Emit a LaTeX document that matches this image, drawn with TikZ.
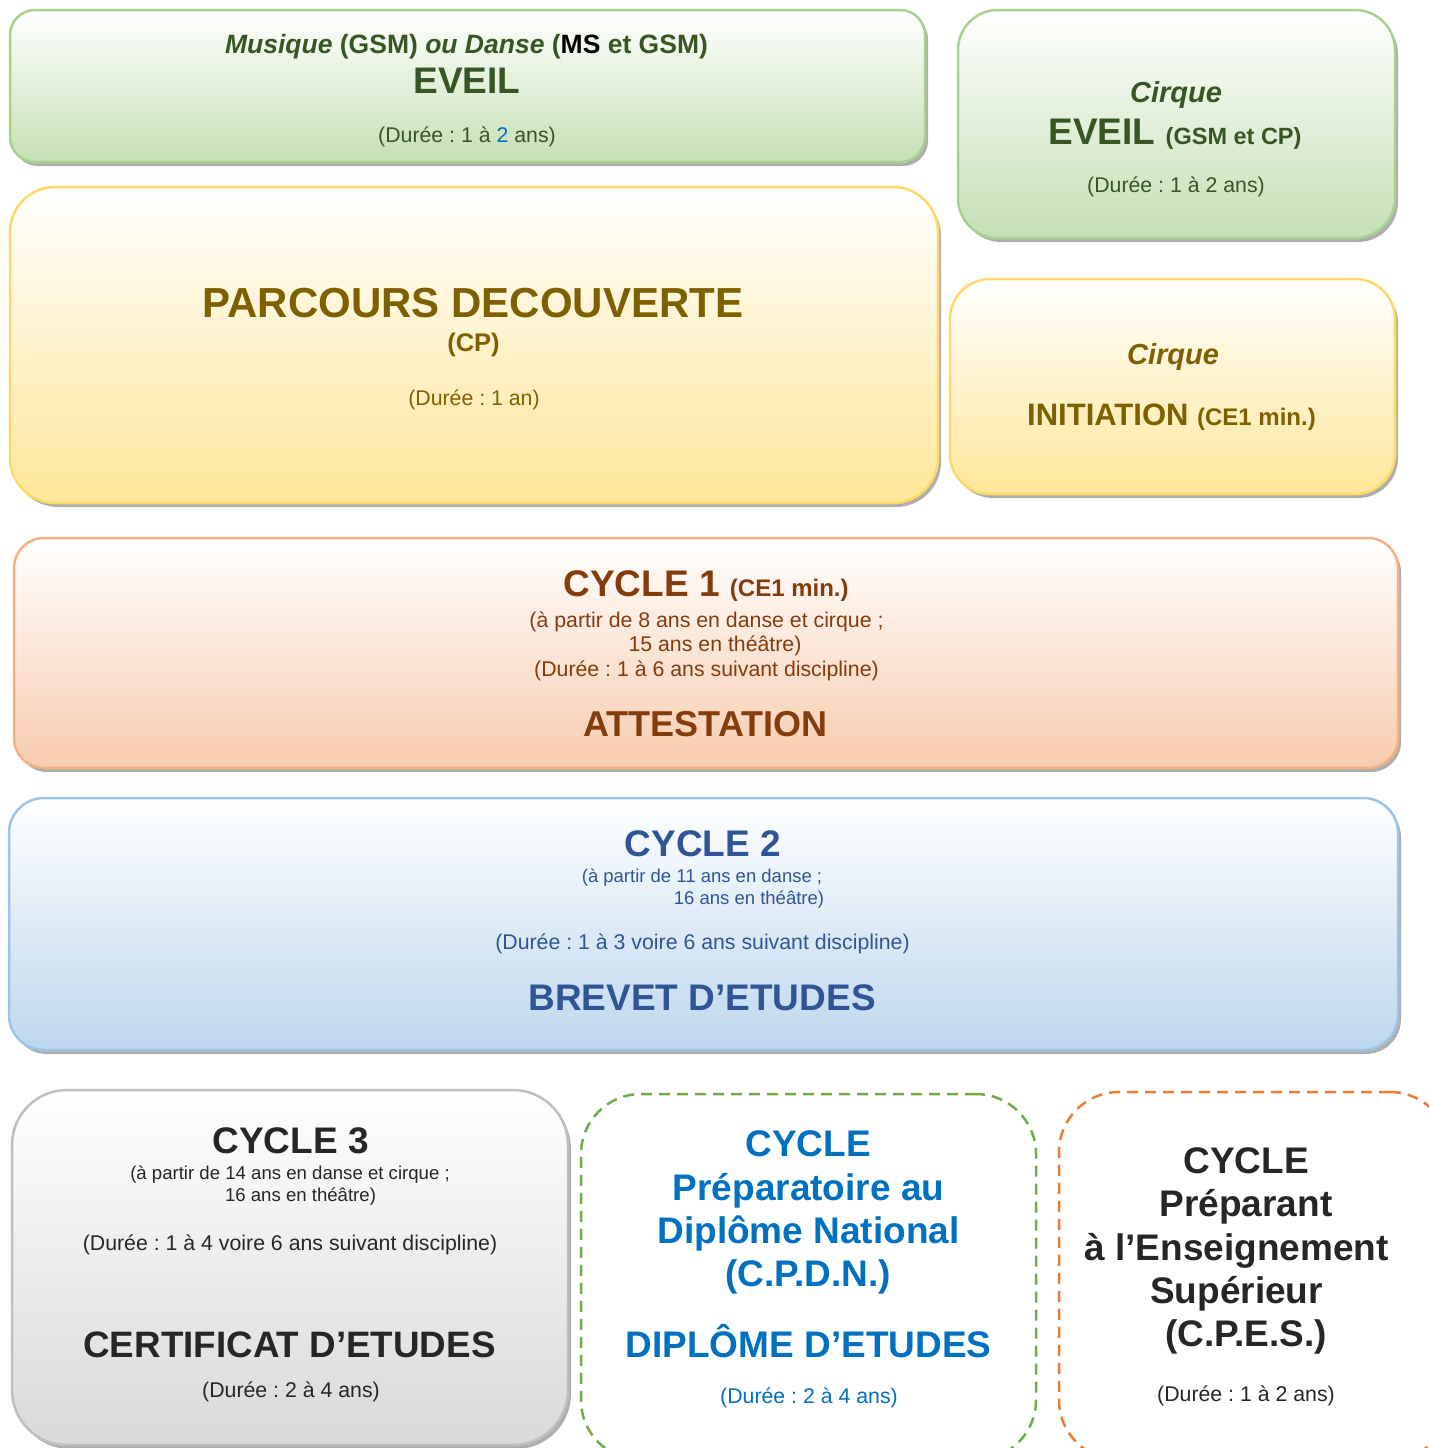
\documentclass[tikz,border=0pt]{standalone}
\usepackage{fontspec}
\setmainfont{Liberation Sans}
\usetikzlibrary{shadows}
\frenchspacing
\definecolor{tGreen}{HTML}{375623}
\definecolor{fGreen}{HTML}{C5E0B4}
\definecolor{bGreen}{HTML}{A9D18E}
\definecolor{tYel}{HTML}{7F6000}
\definecolor{fYel}{HTML}{FFE699}
\definecolor{bYel}{HTML}{FFD966}
\definecolor{tOra}{HTML}{843C0C}
\definecolor{fOra}{HTML}{F8CBAD}
\definecolor{bOra}{HTML}{F4B183}
\definecolor{tBlu}{HTML}{2F5597}
\definecolor{fBlu}{HTML}{BDD7EE}
\definecolor{bBlu}{HTML}{9DC3E6}
\definecolor{tGry}{HTML}{262626}
\definecolor{fGry}{HTML}{D9D9D9}
\definecolor{bGry}{HTML}{BFBFBF}
\definecolor{tCp}{HTML}{0070C0}
\definecolor{dGreen}{HTML}{70AD47}
\definecolor{dOra}{HTML}{ED7D31}
\tikzset{
  panel/.style={draw, line width=2.5pt, inner sep=0pt, top color=white,
    drop shadow={shadow xshift=3pt, shadow yshift=-4pt, opacity=0.45, fill=black!70}},
  dpanel/.style={draw, line width=2.5pt, inner sep=0pt, fill=white, dash pattern=on 11pt off 7pt},
  txt/.style={anchor=base, inner sep=0pt},
  sz/.style={font=\fontsize{#1}{#1}\selectfont},
  bsz/.style={font=\bfseries\fontsize{#1}{#1}\selectfont},
}
\begin{document}
\begin{tikzpicture}[x=1pt,y=-1pt]
\useasboundingbox (0,0) rectangle (1429,1448);
\clip (0,0) rectangle (1429,1448);
\fill[white] (0,0) rectangle (1429,1448);
% boxes
\node[panel, bottom color=fGreen, color=bGreen, rounded corners=25pt, minimum width=915pt, minimum height=152pt] (eveilMD) at (467.5,86) {};
\node[panel, bottom color=fGreen, color=bGreen, rounded corners=40pt, minimum width=437pt, minimum height=228pt] (eveilC) at (1176.5,124) {};
\node[panel, bottom color=fYel, color=bYel, rounded corners=45pt, minimum width=928pt, minimum height=316pt] (parcours) at (474,345) {};
\node[panel, bottom color=fYel, color=bYel, rounded corners=40pt, minimum width=445pt, minimum height=215pt] (initC) at (1172.5,386.5) {};
\node[panel, bottom color=fOra, color=bOra, rounded corners=30pt, minimum width=1384pt, minimum height=230pt] (cyc1) at (706,653) {};
\node[panel, bottom color=fBlu, color=bBlu, rounded corners=35pt, minimum width=1389pt, minimum height=252pt] (cyc2) at (703.5,924) {};
\node[panel, bottom color=fGry, color=bGry, rounded corners=55pt, minimum width=556pt, minimum height=355pt] (cyc3) at (290,1267.5) {};
\node[dpanel, draw=dGreen, rounded corners=60pt, minimum width=455pt, minimum height=366pt] (cpdn) at (808.5,1277) {};
\node[dpanel, draw=dOra, rounded corners=60pt, minimum width=391pt, minimum height=368pt] (cpes) at (1254.5,1276) {};
% box 1
\node[txt, bsz=26.5, text=tGreen] (e1a) at (466.5,53) {\itshape Musique\upshape{} (GSM) \itshape ou Danse\upshape{} ({\color{black}MS} et GSM)};
\node[txt, bsz=37, text=tGreen] (e1b) at (467,93) {EVEIL};
\node[txt, sz=21.3, text=tGreen] (e1c) at (467,142) {(Durée : 1 à {\color{tCp}2} ans)};
% box 2
\node[txt, bsz=29, text=tGreen] (e2a) at (1176,102) {\itshape Cirque};
\node[txt, bsz=37, text=tGreen] (e2b) at (1175,144) {EVEIL {\fontsize{23.5}{23.5}\selectfont (GSM et CP)}};
\node[txt, sz=21.3, text=tGreen] (e2c) at (1176,192) {(Durée : 1 à 2 ans)};
% box 3
\node[txt, bsz=42, text=tYel] (p1) at (473,317) {PARCOURS DECOUVERTE};
\node[txt, bsz=25.5, text=tYel] (p2) at (473.5,351) {(CP)};
\node[txt, sz=21.3, text=tYel] (p3) at (474,405) {(Durée : 1 an)};
% box 4
\node[txt, bsz=29, text=tYel] (i1) at (1173,364) {\itshape Cirque};
\node[txt, bsz=31, text=tYel] (i2) at (1171.5,425) {INITIATION {\fontsize{24}{24}\selectfont (CE1 min.)}};
% cycle 1
\node[txt, bsz=37, text=tOra] (c1a) at (706,596) {CYCLE 1 {\fontsize{24}{24}\selectfont (CE1 min.)}};
\node[txt, sz=21.3, text=tOra] (c1b) at (706.5,627) {(à partir de 8 ans en danse et cirque ;};
\node[txt, sz=21.3, text=tOra] (c1c) at (715,651) {15 ans en théâtre)};
\node[txt, sz=21.3, text=tOra] (c1d) at (706.5,676) {(Durée : 1 à 6 ans suivant discipline)};
\node[txt, bsz=36, text=tOra] (c1e) at (705.5,736) {ATTESTATION};
% cycle 2
\node[txt, bsz=37, text=tBlu] (c2a) at (703,856) {CYCLE 2};
\node[txt, sz=18.5, text=tBlu] (c2b) at (702,882) {(à partir de 11 ans en danse ;};
\node[txt, sz=18.5, text=tBlu] (c2c) at (749,904) {16 ans en théâtre)};
\node[txt, sz=21.3, text=tBlu] (c2d) at (702.5,949) {(Durée : 1 à 3 voire 6 ans suivant discipline)};
\node[txt, bsz=37, text=tBlu] (c2e) at (702,1010) {BREVET D’ETUDES};
% cycle 3
\node[txt, bsz=37, text=tGry] (c3a) at (290.5,1153) {CYCLE 3};
\node[txt, sz=18.6, text=tGry] (c3b) at (290,1179.5) {(à partir de 14 ans en danse et cirque ;};
\node[txt, sz=18.6, text=tGry] (c3c) at (300.5,1201.5) {16 ans en théâtre)};
\node[txt, sz=21.3, text=tGry] (c3d) at (290,1250) {(Durée : 1 à 4 voire 6 ans suivant discipline)};
\node[txt, bsz=36.8, text=tGry] (c3e) at (289.5,1357) {CERTIFICAT D’ETUDES};
\node[txt, sz=21.3, text=tGry] (c3f) at (291,1397) {(Durée : 2 à 4 ans)};
% CPDN
\node[txt, bsz=37, text=tCp] (d1) at (808,1156) {CYCLE};
\node[txt, bsz=37, text=tCp] (d2) at (808.5,1200) {Préparatoire au};
\node[txt, bsz=37, text=tCp] (d3) at (808.5,1243) {Diplôme National};
\node[txt, bsz=37, text=tCp] (d4) at (808,1286) {(C.P.D.N.)};
\node[txt, bsz=37, text=tCp] (d5) at (808.5,1357) {DIPLÔME D’ETUDES};
\node[txt, sz=21.3, text=tCp] (d6) at (809,1403) {(Durée : 2 à 4 ans)};
% CPES
\node[txt, bsz=37, text=tGry] (s1) at (1246,1173) {CYCLE};
\node[txt, bsz=37, text=tGry] (s2) at (1246,1216) {Préparant};
\node[txt, bsz=37, text=tGry] (s3) at (1236.5,1260) {à l’Enseignement};
\node[txt, bsz=37, text=tGry] (s4) at (1236.5,1303) {Supérieur};
\node[txt, bsz=37, text=tGry] (s5) at (1246,1346) {(C.P.E.S.)};
\node[txt, sz=21.3, text=tGry] (s6) at (1246,1401) {(Durée : 1 à 2 ans)};
\end{tikzpicture}
\end{document}
